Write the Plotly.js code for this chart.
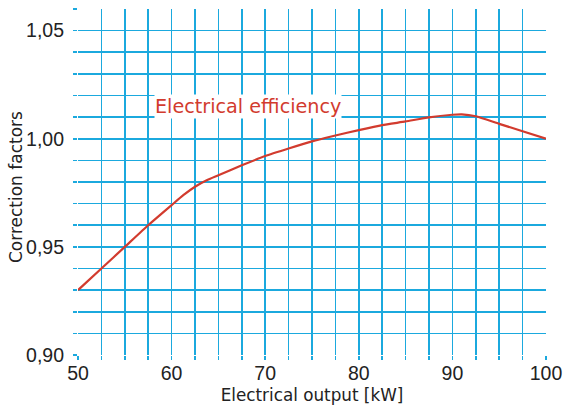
<!DOCTYPE html>
<html><head><meta charset="utf-8">
<script src="https://cdn.plot.ly/plotly-3.0.1.min.js"></script>
<style>html,body{margin:0;padding:0;background:#fff}#c{width:568px;height:408px}</style>
</head><body><div id="c"></div>
<script>
var outputKW = [50, 52.5, 55, 57.5, 60, 61.25, 62.5, 63.75, 65, 67.5, 70, 72.5, 75, 77.5, 80, 82.5, 85, 87.5, 90, 91, 92.5, 95, 97.5, 100];
var efficiencyFactor = [0.930, 0.940, 0.950, 0.960, 0.9693, 0.9739, 0.9778, 0.9808, 0.9831, 0.9877, 0.9920, 0.9955, 0.9988, 1.0015, 1.004, 1.0063, 1.0080, 1.0099, 1.0111, 1.0113, 1.0104, 1.0069, 1.0035, 1.000];
var seriesLabel = "Electrical efficiency";
var xTitle = "Electrical output [kW]";
var yTitle = "Correction factors";
var xTicks = [50, 60, 70, 80, 90, 100];
var yTicks = [0.90, 0.95, 1.00, 1.05];
var yTickText = ["0,90", "0,95", "1,00", "1,05"];

var gridColor = "#1ba9de";
var trace = {
  x: outputKW, y: efficiencyFactor, mode: "lines", type: "scatter",
  line: {color: "#d23b2e", width: 2.2, shape: "spline", smoothing: 0.5},
  hoverinfo: "skip"
};
var layout = {
  width: 568, height: 408,
  margin: {l: 78, r: 22, t: 9, b: 53},
  paper_bgcolor: "#fff", plot_bgcolor: "#fff",
  showlegend: false,
  xaxis: {
    range: [50, 100], tickvals: xTicks, ticktext: xTicks.map(String),
    showgrid: false, zeroline: false, showline: false,
    ticks: "", ticklabelstandoff: 4,
    tickfont: {family: "Liberation Sans, Arial", size: 19.5, color: "#222"},
    title: {text: xTitle, font: {family: "DejaVu Sans, Verdana", size: 16.8, color: "#222"}, standoff: 6},
    fixedrange: true
  },
  xaxis2: {
    overlaying: "x", range: [50, 100], dtick: 2.5, tick0: 50,
    showgrid: true, gridcolor: gridColor, gridwidth: 1.7,
    ticks: "outside", ticklen: 4, tickcolor: gridColor, tickwidth: 1.7,
    showticklabels: false, zeroline: false, showline: false, fixedrange: true
  },
  yaxis: {
    range: [0.90, 1.06], tickvals: yTicks, ticktext: yTickText,
    showgrid: false, zeroline: false, showline: false,
    ticks: "", ticklabelstandoff: 13,
    tickfont: {family: "Liberation Sans, Arial", size: 19.5, color: "#222"},
    fixedrange: true
  },
  yaxis2: {
    overlaying: "y", range: [0.90, 1.06], dtick: 0.01, tick0: 0.90,
    showgrid: true, gridcolor: gridColor, gridwidth: 1.7,
    ticks: "outside", ticklen: 4, tickcolor: gridColor, tickwidth: 1.7,
    showticklabels: false, zeroline: false, showline: false, fixedrange: true
  },
  annotations: [{
    x: 58.15, y: 1.0148, xref: "x", yref: "y", xanchor: "left", yanchor: "middle",
    text: seriesLabel, showarrow: false, bgcolor: "#fff", borderpad: 0,
    font: {family: "DejaVu Sans, Verdana", size: 19.2, color: "#d23b2e"}
  }, {
    x: -0.132, y: 0.486, xref: "paper", yref: "paper", xanchor: "center", yanchor: "middle",
    text: yTitle, textangle: -90, showarrow: false,
    font: {family: "DejaVu Sans, Verdana", size: 17, color: "#222"}
  }]
};
var gridTrace = {x: [50], y: [0.9], xaxis: "x2", yaxis: "y2", mode: "markers", marker: {opacity: 0}, hoverinfo: "skip"};
Plotly.newPlot("c", [gridTrace, trace], layout, {displayModeBar: false, staticPlot: true});
</script></body></html>
